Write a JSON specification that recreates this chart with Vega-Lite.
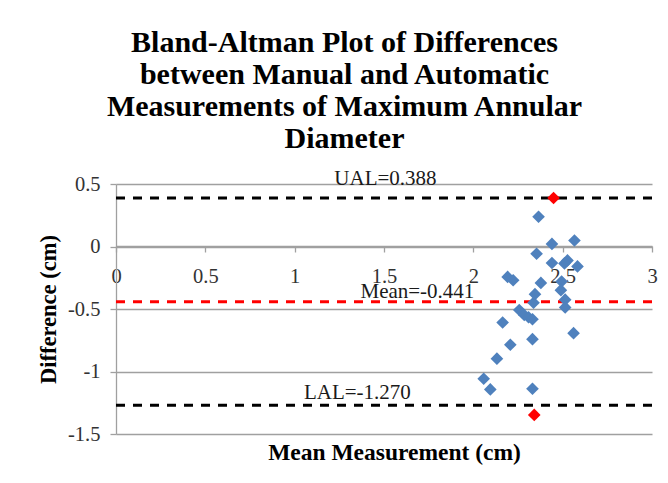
{
  "$schema": "https://vega.github.io/schema/vega-lite/v6.json",
  "width": 536,
  "height": 250,
  "autosize": {"type": "none"},
  "padding": {"left": 116, "top": 184, "right": 16, "bottom": 49},
  "background": "white",
  "title": {
    "text": ["Bland-Altman Plot of Differences", "between Manual and Automatic", "Measurements of Maximum Annular", "Diameter"],
    "fontSize": 30,
    "fontWeight": "bold",
    "font": "Liberation Serif",
    "lineHeight": 32,
    "anchor": "middle",
    "frame": "group",
    "dx": -39.5,
    "offset": 14,
    "color": "#000000"
  },
  "config": {
    "view": {"stroke": null},
    "font": "Liberation Serif"
  },
  "datasets": {
    "points": [
      {"x": 2.365, "y": 0.238, "group": "normal"},
      {"x": 2.440, "y": 0.021, "group": "normal"},
      {"x": 2.566, "y": 0.048, "group": "normal"},
      {"x": 2.354, "y": -0.058, "group": "normal"},
      {"x": 2.440, "y": -0.132, "group": "normal"},
      {"x": 2.527, "y": -0.111, "group": "normal"},
      {"x": 2.510, "y": -0.135, "group": "normal"},
      {"x": 2.583, "y": -0.159, "group": "normal"},
      {"x": 2.378, "y": -0.291, "group": "normal"},
      {"x": 2.494, "y": -0.280, "group": "normal"},
      {"x": 2.345, "y": -0.381, "group": "normal"},
      {"x": 2.490, "y": -0.349, "group": "normal"},
      {"x": 2.337, "y": -0.450, "group": "normal"},
      {"x": 2.514, "y": -0.425, "group": "normal"},
      {"x": 2.514, "y": -0.487, "group": "normal"},
      {"x": 2.192, "y": -0.243, "group": "normal"},
      {"x": 2.223, "y": -0.270, "group": "normal"},
      {"x": 2.257, "y": -0.508, "group": "normal"},
      {"x": 2.285, "y": -0.548, "group": "normal"},
      {"x": 2.309, "y": -0.566, "group": "normal"},
      {"x": 2.331, "y": -0.582, "group": "normal"},
      {"x": 2.164, "y": -0.608, "group": "normal"},
      {"x": 2.331, "y": -0.741, "group": "normal"},
      {"x": 2.207, "y": -0.786, "group": "normal"},
      {"x": 2.132, "y": -0.897, "group": "normal"},
      {"x": 2.561, "y": -0.693, "group": "normal"},
      {"x": 2.058, "y": -1.058, "group": "normal"},
      {"x": 2.095, "y": -1.143, "group": "normal"},
      {"x": 2.331, "y": -1.138, "group": "normal"},
      {"x": 2.449, "y": 0.388, "group": "outlier"},
      {"x": 2.341, "y": -1.347, "group": "outlier"}
    ],
    "limits": [
      {"y": 0.388},
      {"y": -1.270}
    ],
    "mean": [
      {"y": -0.441}
    ],
    "ual": [{"x": 1.508, "y": 0.388, "text": "UAL=0.388"}],
    "meanlabel": [{"x": 1.687, "y": -0.441, "text": "Mean=-0.441"}],
    "lal": [{"x": 1.351, "y": -1.270, "text": "LAL=-1.270"}]
  },
  "resolve": {"axis": {"x": "independent"}},
  "layer": [
    {
      "data": {"name": "limits"},
      "mark": {"type": "rule", "color": "#000000", "strokeWidth": 3, "strokeDash": [9, 8]},
      "encoding": {
        "y": {"field": "y", "type": "quantitative", "scale": {"domain": [-1.5, 0.5], "nice": false, "zero": false}}
      }
    },
    {
      "data": {"name": "mean"},
      "mark": {"type": "rule", "color": "#ff0000", "strokeWidth": 3, "strokeDash": [9, 8]},
      "encoding": {
        "y": {"field": "y", "type": "quantitative"}
      }
    },
    {
      "data": {"name": "points"},
      "mark": {"type": "point", "shape": "diamond", "filled": true, "size": 160, "opacity": 1},
      "encoding": {
        "x": {
          "field": "x",
          "type": "quantitative",
          "scale": {"domain": [0, 3], "nice": false, "zero": false},
          "axis": {
            "orient": "bottom",
            "offset": -188,
            "title": null,
            "grid": false,
            "values": [0, 0.5, 1, 1.5, 2, 2.5, 3],
            "labelExpr": "'' + datum.value",
            "domainColor": "#a0a0a0",
            "domainWidth": 1.3,
            "tickColor": "#a0a0a0",
            "tickWidth": 1.3,
            "tickSize": 6,
            "labelPadding": 14,
            "labelFontSize": 20.5,
            "labelColor": "#333333",
            "labelFont": "Liberation Serif",
            "labelFlush": false,
            "labelOverlap": false
          }
        },
        "y": {
          "field": "y",
          "type": "quantitative",
          "axis": {
            "title": "Difference (cm)",
            "titleFont": "Liberation Serif",
            "titleFontSize": 22.5,
            "titleFontWeight": "bold",
            "titleColor": "#000000",
            "titleX": -60.5,
            "titleY": 125,
            "titleAlign": "center",
            "titleBaseline": "alphabetic",
            "titleAngle": -90,
            "values": [-1.5, -1, -0.5, 0, 0.5],
            "labelExpr": "'' + datum.value",
            "grid": true,
            "gridColor": "#a0a0a0",
            "gridWidth": 1.3,
            "domainColor": "#a0a0a0",
            "domainWidth": 1.3,
            "tickColor": "#a0a0a0",
            "tickWidth": 1.3,
            "tickSize": 6,
            "labelPadding": 10,
            "labelFontSize": 20.5,
            "labelColor": "#333333",
            "labelFont": "Liberation Serif",
            "labelBaseline": "middle",
            "labelFlush": false,
            "labelOverlap": false
          }
        },
        "color": {
          "field": "group",
          "type": "nominal",
          "scale": {"domain": ["normal", "outlier"], "range": ["#4f81bd", "#ff0000"]},
          "legend": null
        }
      }
    },
    {
      "data": {"name": "ual"},
      "mark": {"type": "text", "fontSize": 21, "font": "Liberation Serif", "color": "#1a1a1a", "baseline": "alphabetic", "align": "center", "dy": -13},
      "encoding": {
        "x": {
          "field": "x",
          "type": "quantitative",
          "axis": {
            "orient": "bottom",
            "labels": false,
            "ticks": false,
            "domain": false,
            "grid": false,
            "title": "Mean Measurement (cm)",
            "titleFont": "Liberation Serif",
            "titleFontSize": 23.5,
            "titleFontWeight": "bold",
            "titleColor": "#000000",
            "titleX": 278,
            "titleY": 25,
            "titleAlign": "center",
            "titleBaseline": "alphabetic"
          }
        },
        "y": {"field": "y", "type": "quantitative"},
        "text": {"field": "text"}
      }
    },
    {
      "data": {"name": "meanlabel"},
      "mark": {"type": "text", "fontSize": 21, "font": "Liberation Serif", "color": "#1a1a1a", "baseline": "alphabetic", "align": "center", "dy": -4},
      "encoding": {
        "x": {"field": "x", "type": "quantitative", "axis": null},
        "y": {"field": "y", "type": "quantitative"},
        "text": {"field": "text"}
      }
    },
    {
      "data": {"name": "lal"},
      "mark": {"type": "text", "fontSize": 21, "font": "Liberation Serif", "color": "#1a1a1a", "baseline": "alphabetic", "align": "center", "dy": -6},
      "encoding": {
        "x": {"field": "x", "type": "quantitative", "axis": null},
        "y": {"field": "y", "type": "quantitative"},
        "text": {"field": "text"}
      }
    }
  ]
}
